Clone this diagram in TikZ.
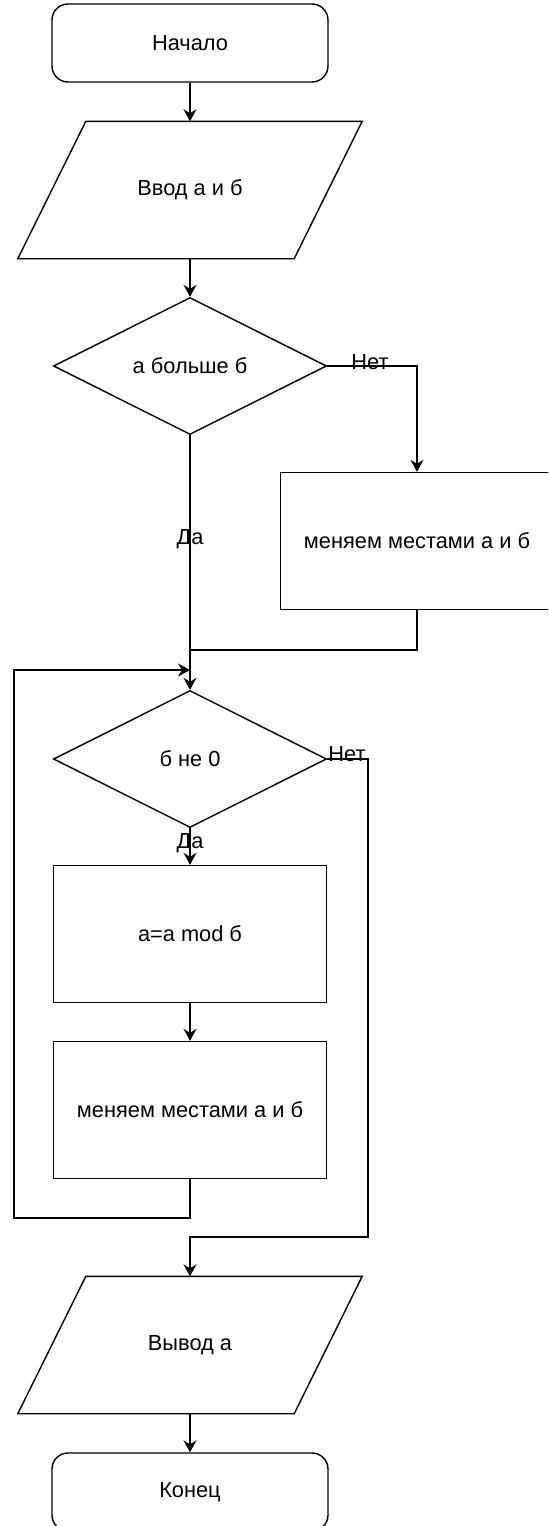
\documentclass[tikz,border=0pt]{standalone}
\usepackage{fontspec}
\setmainfont{Liberation Sans}
\usepackage{tikz}
\usetikzlibrary{shapes.geometric, arrows.meta}

\begin{document}
\begin{tikzpicture}[x=0.5pt, y=-0.5pt,
    line width=0.7pt,
    every node/.style={font=\fontsize{10.9}{12}\selectfont},
    flow/.style={-{Stealth[length=6pt, width=6.5pt, inset=2pt]}},
    term/.style={draw, rounded corners=8pt, minimum width=138pt, minimum height=39pt, inner sep=0pt},
    iobox/.style={minimum width=171.5pt, minimum height=68pt, inner sep=0pt},
    cond/.style={draw, diamond, minimum width=136.5pt, minimum height=68.5pt, inner sep=0pt},
    proc/.style={draw, rectangle, minimum width=136.5pt, minimum height=68.5pt, inner sep=0pt},
    tag/.style={inner sep=0pt}]
    %% page frame
    \useasboundingbox (0,0) rectangle (548,1526);
    \clip (0,0) rectangle (548,1526);
    %% blocks
    \node[term] (start) at (190,43) {Начало};
    \node[iobox] (input) at (190,190) {Ввод а и б};
    \node[cond] (cmp) at (190,366) {а больше б};
    \node[proc] (swapA) at (417,541) {меняем местами а и б};
    \node[cond] (test) at (190,759) {б не 0};
    \node[proc] (modb) at (190,934) {а=а mod б};
    \node[proc] (swapB) at (190,1110) {меняем местами а и б};
    \node[iobox] (output) at (190,1345) {Вывод а};
    \node[term] (finish) at (190,1492) {Конец};
    %% slanted sides of the input/output boxes
    \foreach \io in {input, output}
        \draw (\io.south west) -- ([xshift=34pt]\io.north west) -- (\io.north east)
            -- ([xshift=-34pt]\io.south east) -- cycle;
    %% helper points
    \coordinate (merge) at (190,650);
    \coordinate (loopin) at (190,670);
    \coordinate (loopleft) at (14,1218);
    \coordinate (exitright) at (368,1237);
    %% straight arrows
    \draw[flow] (start.south) -- (input.north);
    \draw[flow] (input.south) -- (cmp.north);
    \draw[flow] (cmp.south) -- (test.north);
    \draw[flow] (modb.south) -- (swapB.north);
    \draw[flow] (output.south) -- (finish.north);
    \draw[flow] (test.south) -- (modb.north);
    %% branch of first test
    \draw[flow] (cmp.east) -| (swapA.north);
    \draw (swapA.south) |- (merge);
    %% loop back
    \draw[flow] (swapB.south) |- (loopleft) |- (loopin);
    %% exit of loop
    \draw[flow] (test.east) -| (exitright) -| (output.north);
    %% labels
    \node[tag] (noA) at (370,362) {Нет};
    \node[tag] (yesA) at (190,539) {Да};
    \node[tag] (noB) at (347,754) {Нет};
    \node[tag] (yesB) at (190,843) {Да};
\end{tikzpicture}
\end{document}
